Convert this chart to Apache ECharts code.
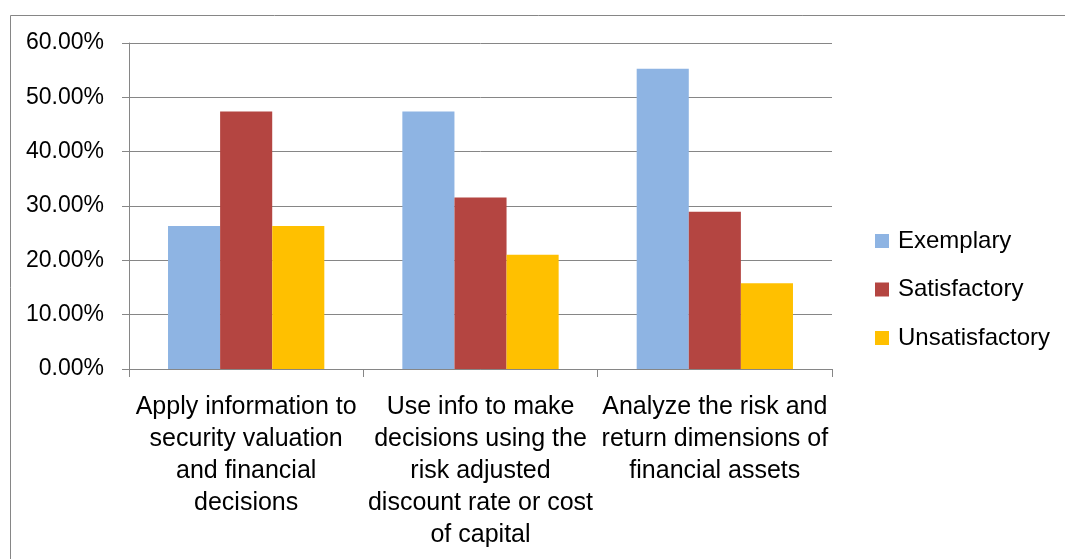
<!DOCTYPE html>
<html>
<head>
<meta charset="utf-8">
<script src="https://cdn.jsdelivr.net/npm/echarts@6/dist/echarts.min.js"></script>
<style>
  html, body { margin: 0; padding: 0; background: #fff; }
  #chart { width: 1065px; height: 559px; }
</style>
</head>
<body>
<div id="chart"></div>
<script>
// Learning outcomes and share of students rated at each level (%)
const categories = [
  'Apply information to\nsecurity valuation\nand financial\ndecisions',
  'Use info to make\ndecisions using the\nrisk adjusted\ndiscount rate or cost\nof capital',
  'Analyze the risk and\nreturn dimensions of\nfinancial assets'
];
const exemplary = [26.32, 47.37, 55.26];
const satisfactory = [47.37, 31.58, 28.95];
const unsatisfactory = [26.32, 21.05, 15.79];
const yTicks = { min: 0, max: 60, interval: 10 };

const FONT = '"Liberation Sans", Arial, sans-serif';
const GRAY = '#868686';

const chart = echarts.init(document.getElementById('chart'), null, { renderer: 'canvas' });

function bar(name, data, color) {
  return {
    name, type: 'bar', data,
    barGap: '0%', barCategoryGap: '33.3%',
    itemStyle: { color },
    emphasis: { disabled: true }
  };
}

chart.setOption({
  animation: false,
  backgroundColor: '#fff',
  textStyle: { fontFamily: FONT },
  graphic: [{
    type: 'rect',
    left: 8, top: 13,
    shape: { width: 1080, height: 580 },
    style: { fill: 'none', stroke: GRAY, lineWidth: 1 },
    silent: true
  }],
  grid: { left: 129, top: 43, right: 233, bottom: 190, containLabel: false },
  legend: {
    orient: 'vertical',
    left: 875, top: 229, padding: 0,
    itemWidth: 14, itemHeight: 14, itemGap: 24.5,
    icon: 'rect',
    textStyle: { fontFamily: FONT, fontSize: 24, color: '#000', lineHeight: 24, padding: [0, 0, 0, 4] },
    data: ['Exemplary', 'Satisfactory', 'Unsatisfactory']
  },
  xAxis: {
    type: 'category',
    data: categories,
    axisLine: { lineStyle: { color: GRAY, width: 1 } },
    axisTick: { show: true, length: 8, lineStyle: { color: GRAY } },
    axisLabel: {
      interval: 0, margin: 22, color: '#000',
      fontFamily: FONT, fontSize: 25, lineHeight: 32, align: 'center'
    },
    splitLine: { show: false }
  },
  yAxis: {
    type: 'value',
    min: yTicks.min, max: yTicks.max, interval: yTicks.interval,
    axisLine: { show: true, lineStyle: { color: GRAY, width: 1 } },
    axisTick: { show: true, length: 7, lineStyle: { color: GRAY } },
    axisLabel: {
      margin: 25, color: '#000', fontFamily: FONT, fontSize: 23,
      formatter: v => v.toFixed(2) + '%'
    },
    splitLine: { show: true, lineStyle: { color: GRAY, width: 1 } }
  },
  series: [
    bar('Exemplary', exemplary, '#8EB4E3'),
    bar('Satisfactory', satisfactory, '#B44541'),
    bar('Unsatisfactory', unsatisfactory, '#FFC000')
  ]
});
</script>
</body>
</html>
